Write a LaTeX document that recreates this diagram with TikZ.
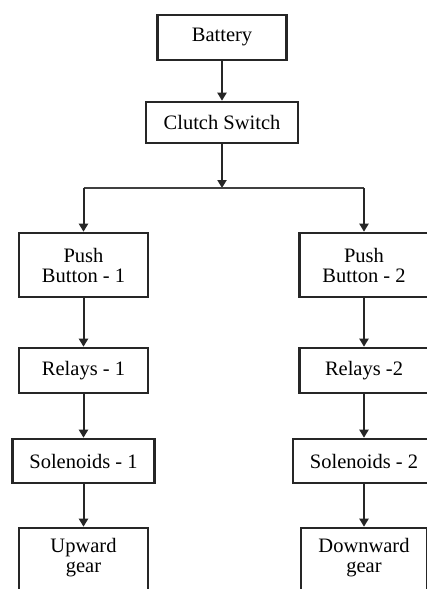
\documentclass[tikz,border=0pt]{standalone}
\usepackage{fontspec}
\setmainfont{Liberation Serif}
\usetikzlibrary{arrows.meta}
\begin{document}
\begin{tikzpicture}[x=1pt,y=-1pt,
  txt/.style={font=\fontsize{20.5}{20}\selectfont},
  box/.style={draw=black!85, line width=2.6pt, fill=white, align=center, inner sep=0pt, txt},
  conn/.style={draw=black!85, line width=2pt},
  arr/.style={conn, -{Triangle[length=8pt,width=9pt]}}]
\useasboundingbox (0,0) rectangle (426,589);
\fill[white] (0,0) rectangle (426,589);
\node[box, minimum width=129pt, minimum height=45pt] (bat) at (222,37.5) {Battery};
\node[box, minimum width=152pt, minimum height=41pt] (clu) at (222,122.5) {Clutch Switch};
\node[box, minimum width=129pt, minimum height=64pt] (pb1) at (83.5,265) {Push\\Button - 1};
\node[box, minimum width=129pt, minimum height=64pt] (pb2) at (364,265) {Push\\Button - 2};
\node[box, minimum width=129pt, minimum height=45pt] (r1) at (83.5,370.5) {Relays - 1};
\node[box, minimum width=129pt, minimum height=45pt] (r2) at (364,370.5) {Relays -2};
\node[box, minimum width=142pt, minimum height=44pt] (s1) at (83.5,461) {Solenoids - 1};
\node[box, minimum width=142pt, minimum height=44pt] (s2) at (364,461) {Solenoids - 2};
\node[box, minimum width=129pt, minimum height=84pt] (ug) at (83.5,570) {};
\node[box, minimum width=126pt, minimum height=84pt] (dg) at (364,570) {};
\node[align=center, txt, inner sep=0pt] (ugt) at (83.5,558) {Upward\\gear};
\node[align=center, txt, inner sep=0pt] (dgt) at (364,558) {Downward\\gear};
\coordinate (jc) at (222,188);
\coordinate (jl) at (83.5,188);
\coordinate (jr) at (364,188);
\draw[arr] (bat.south) -- (clu.north);
\draw[arr] (clu.south) -- (jc);
\draw[draw=black!75, line width=1.3pt] (jl) -- (jr);
\draw[arr] (jl) -- (pb1.north);
\draw[arr] (jr) -- (pb2.north);
\draw[arr] (pb1.south) -- (r1.north);
\draw[arr] (pb2.south) -- (r2.north);
\draw[arr] (r1.south) -- (s1.north);
\draw[arr] (r2.south) -- (s2.north);
\draw[arr] (s1.south) -- (ug.north);
\draw[arr] (s2.south) -- (dg.north);
\end{tikzpicture}
\end{document}
